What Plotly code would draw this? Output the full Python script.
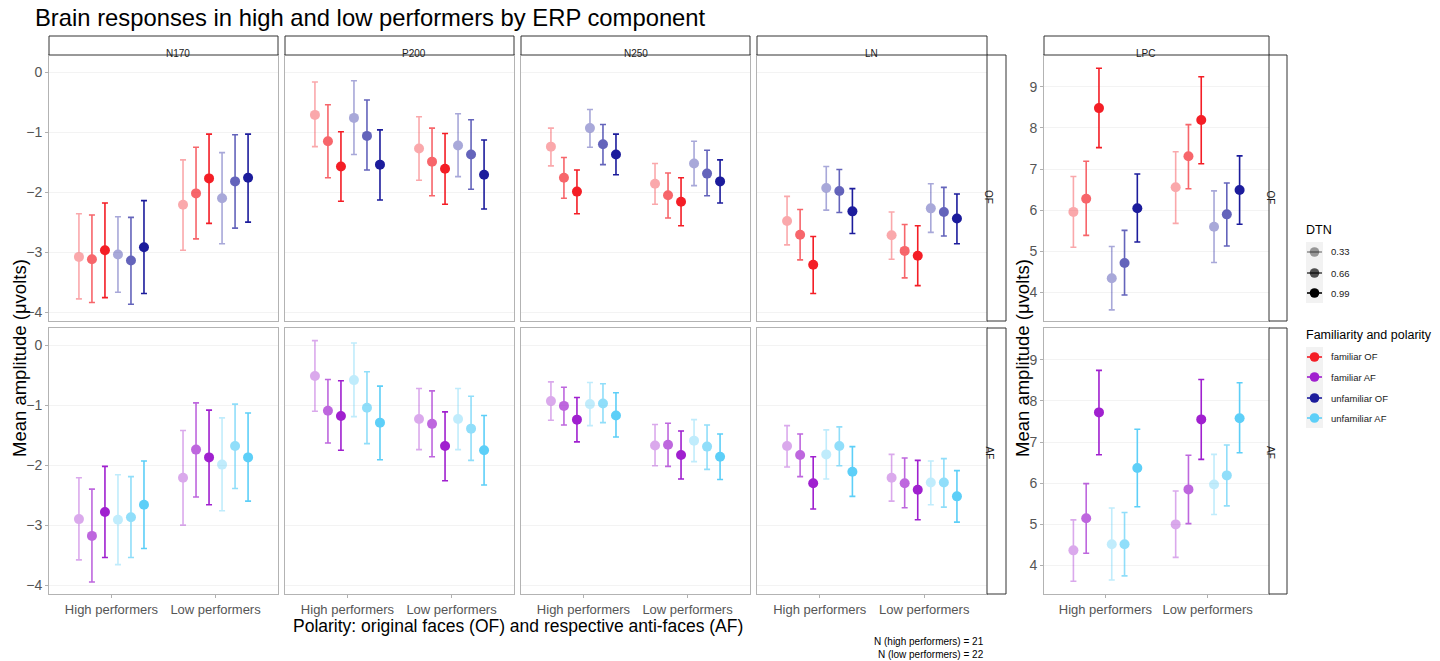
import plotly.graph_objects as go

# ---------------- data ----------------
components = ["N170", "P200", "N250", "LN", "LPC"]
polarities = ["OF", "AF"]
groups = ["High performers", "Low performers"]
familiarity = ["familiar", "unfamiliar"]
dtn_levels = [0.33, 0.66, 0.99]

# order inside each list: High(fam .33,.66,.99, unf .33,.66,.99), Low(same)
N170_OF_mean = [-3.08, -3.12, -2.97, -3.04, -3.14, -2.92, -2.21, -2.02, -1.77, -2.10, -1.82, -1.76]
N170_OF_lo = [-3.78, -3.84, -3.76, -3.67, -3.87, -3.69, -2.97, -2.78, -2.52, -2.86, -2.60, -2.50]
N170_OF_hi = [-2.36, -2.38, -2.18, -2.41, -2.42, -2.14, -1.46, -1.25, -1.03, -1.34, -1.04, -1.03]

P200_OF_mean = [-0.71, -1.15, -1.57, -0.76, -1.06, -1.54, -1.27, -1.49, -1.61, -1.22, -1.37, -1.71]
P200_OF_lo = [-1.24, -1.76, -2.15, -1.37, -1.63, -2.13, -1.80, -2.06, -2.20, -1.74, -1.95, -2.28]
P200_OF_hi = [-0.16, -0.54, -0.99, -0.14, -0.46, -0.96, -0.74, -0.93, -1.02, -0.69, -0.79, -1.13]

N250_OF_mean = [-1.24, -1.76, -1.99, -0.93, -1.20, -1.37, -1.86, -2.05, -2.16, -1.52, -1.69, -1.82]
N250_OF_lo = [-1.56, -2.10, -2.36, -1.25, -1.54, -1.71, -2.20, -2.43, -2.56, -1.89, -2.06, -2.18]
N250_OF_hi = [-0.93, -1.42, -1.63, -0.62, -0.87, -1.03, -1.52, -1.68, -1.76, -1.15, -1.30, -1.46]

LN_OF_mean = [-2.48, -2.71, -3.21, -1.93, -1.98, -2.32, -2.72, -2.98, -3.06, -2.27, -2.33, -2.44]
LN_OF_lo = [-2.88, -3.13, -3.69, -2.30, -2.34, -2.69, -3.12, -3.43, -3.56, -2.67, -2.73, -2.86]
LN_OF_hi = [-2.07, -2.29, -2.74, -1.57, -1.62, -1.94, -2.33, -2.54, -2.56, -1.86, -1.92, -2.03]

LPC_OF_mean = [5.96, 6.28, 8.48, 4.35, 4.72, 6.05, 6.56, 7.31, 8.19, 5.60, 5.90, 6.49]
LPC_OF_lo = [5.10, 5.39, 7.52, 3.58, 3.94, 5.23, 5.68, 6.52, 7.13, 4.73, 5.13, 5.66]
LPC_OF_hi = [6.82, 7.19, 9.45, 5.12, 5.51, 6.88, 7.42, 8.08, 9.24, 6.47, 6.66, 7.32]

N170_AF_mean = [-2.90, -3.18, -2.78, -2.91, -2.87, -2.66, -2.21, -1.74, -1.87, -1.99, -1.68, -1.87]
N170_AF_lo = [-3.58, -3.95, -3.54, -3.66, -3.54, -3.39, -3.00, -2.53, -2.66, -2.76, -2.39, -2.60]
N170_AF_hi = [-2.21, -2.40, -2.02, -2.16, -2.19, -1.93, -1.42, -0.96, -1.08, -1.21, -0.98, -1.13]

P200_AF_mean = [-0.51, -1.09, -1.18, -0.58, -1.04, -1.29, -1.23, -1.31, -1.68, -1.23, -1.39, -1.75]
P200_AF_lo = [-1.10, -1.63, -1.75, -1.19, -1.64, -1.91, -1.74, -1.86, -2.26, -1.74, -1.92, -2.33]
P200_AF_hi = [0.08, -0.57, -0.59, 0.04, -0.44, -0.68, -0.72, -0.76, -1.11, -0.72, -0.85, -1.17]

N250_AF_mean = [-0.93, -1.01, -1.24, -0.98, -0.97, -1.17, -1.67, -1.66, -1.83, -1.59, -1.69, -1.86]
N250_AF_lo = [-1.25, -1.33, -1.61, -1.34, -1.29, -1.53, -2.01, -2.02, -2.23, -1.94, -2.07, -2.24]
N250_AF_hi = [-0.61, -0.70, -0.87, -0.62, -0.64, -0.79, -1.32, -1.30, -1.43, -1.24, -1.33, -1.48]

LN_AF_mean = [-1.68, -1.83, -2.30, -1.82, -1.68, -2.11, -2.21, -2.30, -2.41, -2.29, -2.29, -2.52]
LN_AF_lo = [-2.03, -2.19, -2.73, -2.23, -2.01, -2.52, -2.60, -2.71, -2.91, -2.66, -2.70, -2.95]
LN_AF_hi = [-1.34, -1.48, -1.86, -1.41, -1.36, -1.69, -1.82, -1.88, -1.92, -1.93, -1.89, -2.09]

LPC_AF_mean = [4.37, 5.15, 7.72, 4.52, 4.52, 6.37, 5.00, 5.85, 7.55, 5.97, 6.19, 7.58]
LPC_AF_lo = [3.62, 4.30, 6.69, 3.65, 3.75, 5.43, 4.20, 5.02, 6.58, 5.24, 5.45, 6.74]
LPC_AF_hi = [5.11, 5.99, 8.74, 5.40, 5.29, 7.31, 5.81, 6.68, 8.52, 6.70, 6.93, 8.44]

series = {
    ("N170", "OF"): (N170_OF_mean, N170_OF_lo, N170_OF_hi),
    ("P200", "OF"): (P200_OF_mean, P200_OF_lo, P200_OF_hi),
    ("N250", "OF"): (N250_OF_mean, N250_OF_lo, N250_OF_hi),
    ("LN", "OF"): (LN_OF_mean, LN_OF_lo, LN_OF_hi),
    ("LPC", "OF"): (LPC_OF_mean, LPC_OF_lo, LPC_OF_hi),
    ("N170", "AF"): (N170_AF_mean, N170_AF_lo, N170_AF_hi),
    ("P200", "AF"): (P200_AF_mean, P200_AF_lo, P200_AF_hi),
    ("N250", "AF"): (N250_AF_mean, N250_AF_lo, N250_AF_hi),
    ("LN", "AF"): (LN_AF_mean, LN_AF_lo, LN_AF_hi),
    ("LPC", "AF"): (LPC_AF_mean, LPC_AF_lo, LPC_AF_hi),
}

colors = {
    "familiar OF": "#F41E26",
    "familiar AF": "#A020CF",
    "unfamiliar OF": "#1C1C9C",
    "unfamiliar AF": "#5DCFF8",
}
alpha_of = {0.33: 0.38, 0.66: 0.68, 0.99: 1.0}

title_text = "Brain responses in high and low performers by ERP component"
xtitle_text = "Polarity: original faces (OF) and respective anti-faces (AF)"
ytitle_text = "Mean amplitude (μvolts)"
caption_text = "N (high performers) = 21<br>N (low performers) = 22"

# ---------------- layout geometry (pixels) ----------------
W, H = 1440, 661
FONT = "Liberation Sans, Arial, sans-serif"
col_px = [(49, 278), (285, 514), (521, 750), (757, 987), (1044, 1269)]
row_px = [(55, 321), (328, 594)]
strip_top = (36, 55)
right_strips = [(987, 1006), (1269, 1287)]


def px(x):
    return x / W


def py(y):
    return 1 - y / H


fig = go.Figure()
layout = dict(
    width=W, height=H, margin=dict(l=0, r=0, t=0, b=0),
    paper_bgcolor="white", plot_bgcolor="white", showlegend=False,
    font=dict(family=FONT, color="#4D4D4D"),
)
shapes = []
annotations = []

dodge = 0.75 / 6
for r, pol in enumerate(polarities):
    for c, comp in enumerate(components):
        i = r * 5 + c + 1
        xa = "x" if i == 1 else f"x{i}"
        ya = "y" if i == 1 else f"y{i}"
        mean, lo, hi = series[(comp, pol)]
        for f_i, fam in enumerate(familiarity):
            key = f"{fam} {pol}"
            for d_i, d in enumerate(dtn_levels):
                k = f_i * 3 + d_i
                idx = [g * 6 + k for g in range(2)]
                xs = [g + 1 + (k - 2.5) * dodge for g in range(2)]
                ys = [mean[j] for j in idx]
                fig.add_trace(go.Scatter(
                    x=xs, y=ys, xaxis=xa, yaxis=ya, mode="markers",
                    opacity=alpha_of[d],
                    marker=dict(size=10, color=colors[key]),
                    error_y=dict(type="data", symmetric=False,
                                 array=[hi[j] - mean[j] for j in idx],
                                 arrayminus=[mean[j] - lo[j] for j in idx],
                                 color=colors[key], thickness=1.6, width=3),
                    name=f"{key} {d}", hoverinfo="x+y",
                ))
        x0, x1 = col_px[c]
        y0, y1 = row_px[r]
        is_lpc = comp == "LPC"
        yr = [3.31, 9.77] if is_lpc else [-4.15, 0.29]
        yt = [4, 5, 6, 7, 8, 9] if is_lpc else [0, -1, -2, -3, -4]
        layout["xaxis" if i == 1 else f"xaxis{i}"] = dict(
            domain=[px(x0), px(x1)], anchor=ya, range=[0.4, 2.6],
            tickvals=[1, 2], ticktext=groups if r == 1 else ["", ""],
            showticklabels=(r == 1), ticks="outside" if r == 1 else "",
            ticklen=3, tickcolor="#B0B0B0", showgrid=False, zeroline=False,
            showline=True, mirror=True, linecolor="#B3B3B3", linewidth=1,
            tickfont=dict(size=13, color="#555555"), fixedrange=True,
        )
        layout["yaxis" if i == 1 else f"yaxis{i}"] = dict(
            domain=[py(y1), py(y0)], anchor=xa, range=yr, tickvals=yt,
            showticklabels=(c in (0, 4)), ticks="outside" if c in (0, 4) else "",
            ticklen=3, tickcolor="#B0B0B0", showgrid=True, gridcolor="#F3F3F3",
            gridwidth=1, zeroline=False, showline=True, mirror=True,
            linecolor="#B3B3B3", linewidth=1,
            tickfont=dict(size=14, color="#555555"), fixedrange=True,
        )

# strips on top
for c, comp in enumerate(components):
    x0, x1 = col_px[c]
    shapes.append(dict(type="rect", xref="paper", yref="paper",
                       x0=px(x0), x1=px(x1), y0=py(strip_top[1]), y1=py(strip_top[0]),
                       fillcolor="white", line=dict(color="#333333", width=1)))
    annotations.append(dict(text=comp, xref="paper", yref="paper",
                            x=px((x0 + x1) / 2), y=py(sum(strip_top) / 2),
                            showarrow=False, font=dict(size=10, color="#1A1A1A")))
# strips on right
for (sx0, sx1) in right_strips:
    for r, pol in enumerate(polarities):
        y0, y1 = row_px[r]
        shapes.append(dict(type="rect", xref="paper", yref="paper",
                           x0=px(sx0), x1=px(sx1), y0=py(y1), y1=py(y0),
                           fillcolor="white", line=dict(color="#333333", width=1)))
        annotations.append(dict(text=pol, xref="paper", yref="paper",
                                x=px((sx0 + sx1) / 2), y=py((y0 + y1) / 2),
                                textangle=90, showarrow=False,
                                font=dict(size=10, color="#1A1A1A")))

# titles
annotations.append(dict(text=title_text, xref="paper", yref="paper",
                        x=px(33), y=py(17), xanchor="left", yanchor="middle",
                        showarrow=False, font=dict(size=23.8, color="black")))
annotations.append(dict(text=xtitle_text, xref="paper", yref="paper",
                        x=px(518), y=py(626), xanchor="center", yanchor="middle",
                        showarrow=False, font=dict(size=17.5, color="black")))
for yx in (19, 1022):
    annotations.append(dict(text=ytitle_text, xref="paper", yref="paper",
                            x=px(yx), y=py(358), xanchor="center", yanchor="middle",
                            textangle=-90, showarrow=False,
                            font=dict(size=18.5, color="black")))
annotations.append(dict(text=caption_text, xref="paper", yref="paper",
                        x=px(986), y=py(648), xanchor="right", yanchor="middle",
                        align="right", showarrow=False,
                        font=dict(size=10, color="black")))

# legends (drawn manually)
def legend_block(title, ty, entries, box):
    annotations.append(dict(text=title, xref="paper", yref="paper",
                            x=px(1304), y=py(ty), xanchor="left", yanchor="middle",
                            showarrow=False, font=dict(size=12.5, color="black")))
    shapes.append(dict(type="rect", xref="paper", yref="paper",
                       x0=px(1306), x1=px(1323), y0=py(box[1]), y1=py(box[0]),
                       fillcolor="#F2F2F2", line=dict(width=0)))
    for label, yy, col, op in entries:
        shapes.append(dict(type="line", xref="paper", yref="paper",
                           x0=px(1307), x1=px(1322), y0=py(yy), y1=py(yy),
                           line=dict(color=col, width=1.6), opacity=op))
        shapes.append(dict(type="circle", xref="paper", yref="paper",
                           x0=px(1314.5 - 4.8), x1=px(1314.5 + 4.8),
                           y0=py(yy + 4.8), y1=py(yy - 4.8),
                           fillcolor=col, line=dict(width=0), opacity=op))
        annotations.append(dict(text=label, xref="paper", yref="paper",
                                x=px(1329), y=py(yy), xanchor="left", yanchor="middle",
                                showarrow=False, font=dict(size=9.5, color="#1A1A1A")))


legend_block("DTN", 230,
             [(f"{d:.2f}", yy, "black", alpha_of[d])
              for d, yy in zip(dtn_levels, [252, 273, 293])],
             (242, 303))
legend_block("Familiarity and polarity", 335,
             [(k, yy, colors[k], 1.0) for k, yy in
              zip(["familiar OF", "familiar AF", "unfamiliar OF", "unfamiliar AF"],
                  [357, 377, 398, 418])],
             (347, 428))

layout["shapes"] = shapes
layout["annotations"] = annotations
fig.update_layout(**layout)
fig.write_html("out.html", config={"displayModeBar": False})
